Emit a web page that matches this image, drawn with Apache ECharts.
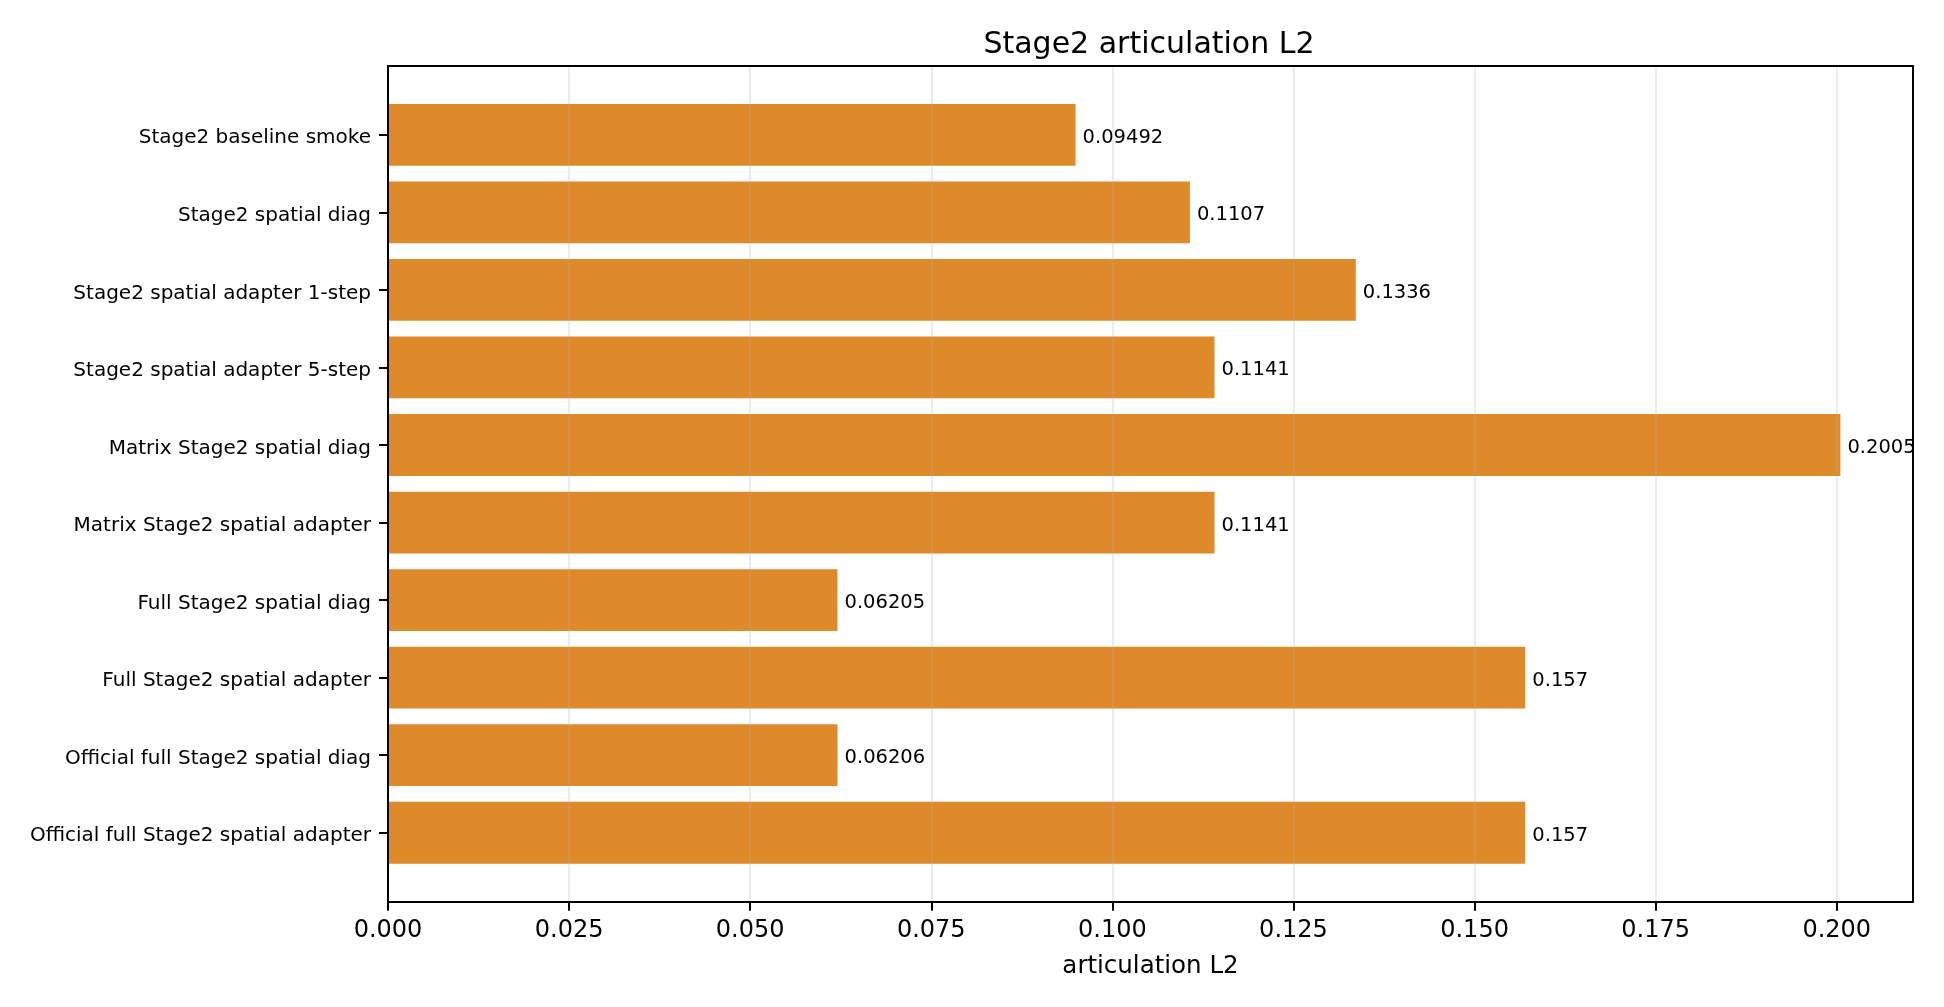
<!DOCTYPE html>
<html>
<head>
<meta charset="utf-8">
<script src="https://cdn.jsdelivr.net/npm/echarts@6/dist/echarts.min.js"></script>
<style>
html,body{margin:0;padding:0;background:#fff;}
#chart{width:1944px;height:1007px;}
</style>
</head>
<body>
<div id="chart"></div>
<script>
const categories = [
  'Stage2 baseline smoke',
  'Stage2 spatial diag',
  'Stage2 spatial adapter 1-step',
  'Stage2 spatial adapter 5-step',
  'Matrix Stage2 spatial diag',
  'Matrix Stage2 spatial adapter',
  'Full Stage2 spatial diag',
  'Full Stage2 spatial adapter',
  'Official full Stage2 spatial diag',
  'Official full Stage2 spatial adapter'
];
const values = [0.09492, 0.1107, 0.1336, 0.1141, 0.2005, 0.1141, 0.06205, 0.157, 0.06206, 0.157];
const xTicks = [0, 0.025, 0.05, 0.075, 0.1, 0.125, 0.15, 0.175, 0.2];
const titleText = 'Stage2 articulation L2';
const xName = 'articulation L2';

const FONT = 'DejaVu Sans';
const xMax = Math.max(...values) * 1.05;

const chart = echarts.init(document.getElementById('chart'), null, {renderer: 'canvas'});

const frame = {left: 388, top: 66, right: 31, bottom: 105.3};
const barGrid = {left: 388, top: 96, right: 31, bottom: 135.5};

const option = {
  backgroundColor: '#ffffff',
  animation: false,
  title: {
    text: titleText,
    left: 1144,
    top: 25,
    textAlign: 'center',
    textStyle: {fontFamily: FONT, fontSize: 30, fontWeight: 'normal', color: '#000'}
  },
  grid: [
    Object.assign({containLabel: false}, frame),
    Object.assign({containLabel: false}, barGrid)
  ],
  xAxis: [
    {
      gridIndex: 0, type: 'value', position: 'bottom', min: 0, max: xMax, interval: 0.025, z: 3,
      axisLine: {show: true, lineStyle: {color: '#000', width: 2}},
      axisTick: {show: true, inside: false, length: 9, lineStyle: {color: '#000', width: 2}, customValues: xTicks},
      axisLabel: {show: true, margin: 17.5, fontFamily: FONT, fontSize: 24, color: '#000',
                  customValues: xTicks, formatter: v => v.toFixed(3)},
      splitLine: {show: true, lineStyle: {color: 'rgba(176,176,176,0.3)', width: 1.6}},
      name: xName, nameLocation: 'middle', nameGap: 52,
      nameTextStyle: {fontFamily: FONT, fontSize: 24.5, color: '#000'}
    },
    {
      gridIndex: 0, type: 'value', position: 'top', min: 0, max: xMax, z: 4,
      axisLine: {show: true, onZero: false, lineStyle: {color: '#000', width: 2}},
      axisTick: {show: false}, axisLabel: {show: false}, splitLine: {show: false}
    },
    {
      gridIndex: 1, type: 'value', min: 0, max: xMax, show: false,
      splitLine: {show: false}
    }
  ],
  yAxis: [
    {
      gridIndex: 0, type: 'value', position: 'left', min: 0, max: 1, z: 4,
      axisLine: {show: true, onZero: false, lineStyle: {color: '#000', width: 2}},
      axisTick: {show: false}, axisLabel: {show: false}, splitLine: {show: false}
    },
    {
      gridIndex: 0, type: 'value', position: 'right', min: 0, max: 1, z: 4,
      axisLine: {show: true, onZero: false, lineStyle: {color: '#000', width: 2}},
      axisTick: {show: false}, axisLabel: {show: false}, splitLine: {show: false}
    },
    {
      gridIndex: 1, type: 'category', data: categories, inverse: true, position: 'left',
      axisLine: {show: false},
      axisTick: {show: true, alignWithLabel: true, inside: false, length: 9, lineStyle: {color: '#000', width: 2}},
      axisLabel: {
        show: true, margin: 17, fontFamily: FONT, fontSize: 20, color: '#000',
        formatter: v => '{a|' + v + '}',
        rich: {a: {fontFamily: FONT, fontSize: 20, color: '#000', padding: [7, 0, 0, 0]}}
      },
      splitLine: {show: false}
    }
  ],
  series: [
    {
      type: 'bar',
      xAxisIndex: 2,
      yAxisIndex: 2,
      data: values,
      barWidth: 61.8,
      itemStyle: {color: '#de8a2a'},
      label: {
        show: true, position: 'right', distance: 7, offset: [0, 3],
        fontFamily: FONT, fontSize: 19.5, color: '#000',
        formatter: p => String(Number(p.value.toPrecision(4)))
      },
      z: 2
    }
  ]
};
chart.setOption(option);
</script>
</body>
</html>
